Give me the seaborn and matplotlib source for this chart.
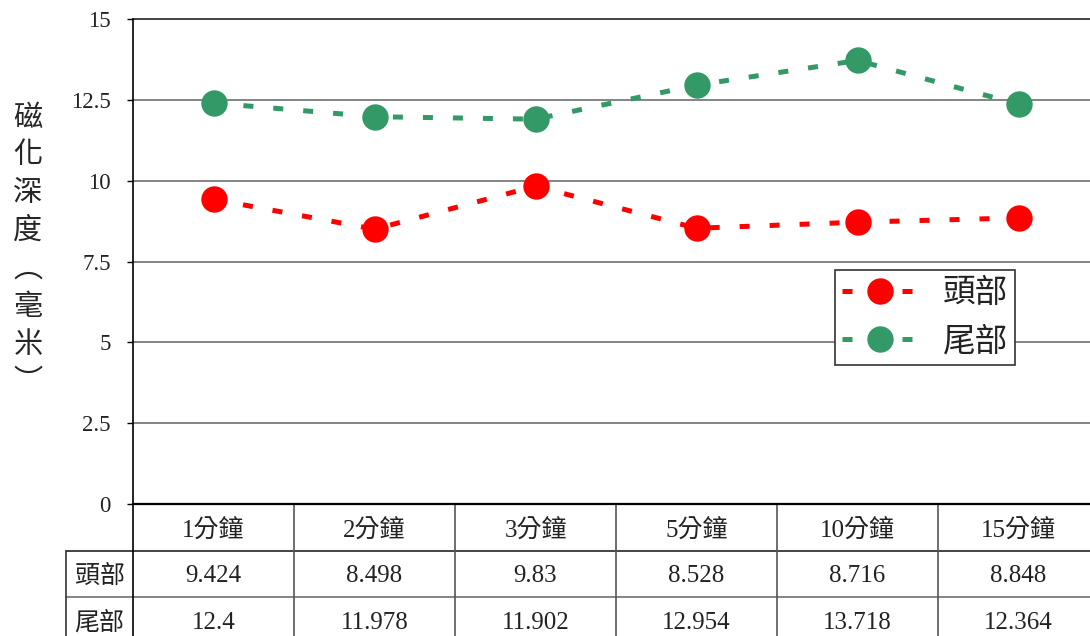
import matplotlib
matplotlib.use("Agg")
import matplotlib.pyplot as plt
import matplotlib.transforms as mtransforms
from matplotlib.lines import Line2D
import pandas as pd
import seaborn as sns

# Magnetization depth (mm) after each exposure time
times = ["1分鐘", "2分鐘", "3分鐘", "5分鐘", "10分鐘", "15分鐘"]
series_names = ["頭部", "尾部"]
head_depth = [9.424, 8.498, 9.83, 8.528, 8.716, 8.848]
tail_depth = [12.4, 11.978, 11.902, 12.954, 13.718, 12.364]
head_labels = ["9.424", "8.498", "9.83", "8.528", "8.716", "8.848"]
tail_labels = ["12.4", "11.978", "11.902", "12.954", "13.718", "12.364"]
y_ticks = [0, 2.5, 5, 7.5, 10, 12.5, 15]
y_tick_labels = ["0", "2.5", "5", "7.5", "10", "12.5", "15"]
y_title = "磁化深度︵毫米︶"

colors = {"頭部": "#ff0000", "尾部": "#339966"}

sns.set_theme(style="white")
plt.rcParams["font.family"] = ["Liberation Serif", "Noto Sans CJK TC", "DejaVu Sans"]

df = pd.DataFrame({
    "idx": list(range(len(times))) * 2,
    "depth": head_depth + tail_depth,
    "part": [series_names[0]] * len(times) + [series_names[1]] * len(times),
})

W, H = 1090, 636
col_w = 161
fig = plt.figure(figsize=(W / 100, H / 100), dpi=100)
# plot area runs slightly past the right edge of the canvas
ax = fig.add_axes([133 / W, 132 / H, col_w * len(times) / W, 485 / H])

sns.lineplot(
    data=df, x="idx", y="depth", hue="part", style="part",
    palette=colors, dashes=[(2, 4), (2, 4)], markers=["o", "o"],
    markersize=19, markeredgewidth=0, linewidth=3.6, legend=False, ax=ax,
    zorder=3,
)

ax.set_xlim(-0.5, len(times) - 0.5)
ax.set_ylim(0, 15)
ax.set_yticks(y_ticks)
ax.set_yticklabels(y_tick_labels, fontsize=16.5, color="#222222")
ax.set_xticks([])
ax.set_xlabel("")
ax.set_ylabel("")
ax.tick_params(axis="y", left=True, length=4, width=1, color="black", pad=12)
for yv in y_ticks[1:]:
    ax.axhline(yv, color="#6f6f6f" if yv < 15 else "#222222", lw=1.2,
               zorder=1, clip_on=False)
for side in ["top", "right"]:
    ax.spines[side].set_visible(False)
ax.spines["left"].set_color("black")
ax.spines["left"].set_linewidth(1.2)
ax.spines["bottom"].set_color("black")
ax.spines["bottom"].set_linewidth(1.6)

# Vertical axis title, one character per line
fig.text(28 / W, 1 - 250 / H, "\n".join(y_title), ha="center", va="center",
         fontsize=21, linespacing=1.34, color="#262626",
         family=["Noto Sans CJK TC", "DejaVu Sans"])

# Legend
handles = [
    Line2D([], [], color=colors[n], lw=3.6, dashes=(2, 4), marker="o",
           markersize=19, markeredgewidth=0)
    for n in series_names
]
leg = ax.legend(handles, series_names, loc="upper left",
                bbox_to_anchor=((835 - 133) / (col_w * len(times)), (504 - 270) / 485),
                borderaxespad=0, fancybox=False, framealpha=1, edgecolor="#333333",
                prop={"family": ["Noto Sans CJK TC"], "size": 23.5},
                handlelength=2.3, handletextpad=0.78, labelspacing=0.5,
                borderpad=0.22)
leg.get_frame().set_linewidth(1.2)
for t in leg.get_texts():
    t.set_color("#222222")

# Data table under the plot
tr = mtransforms.blended_transform_factory(ax.transData, ax.transAxes)
row_h = 46.5 / 485
text_shift = 2.5 / 485
left_edge = -0.5 - 67 / col_w
right_edge = len(times) - 0.5
bottom = -0.32
line_kw = dict(transform=tr, clip_on=False, zorder=2)

for k in (1, 2):
    ax.plot([left_edge, right_edge], [-k * row_h] * 2,
            color="#222222" if k == 1 else "#6f6f6f", lw=1.2, **line_kw)
ax.plot([left_edge, left_edge], [-row_h, bottom], color="#333333", lw=1.2, **line_kw)
ax.plot([-0.5, -0.5], [0, bottom], color="black", lw=1.2, **line_kw)
for i in range(1, len(times)):
    ax.plot([i - 0.5, i - 0.5], [0, bottom], color="#555555", lw=1.2, **line_kw)

label_x = (left_edge - 0.5) / 2
txt_kw = dict(transform=tr, ha="center", va="center", fontsize=18,
              color="#222222", clip_on=False)
for i, t in enumerate(times):
    ax.text(i, -0.5 * row_h - text_shift, t, **txt_kw)
    ax.text(i, -1.5 * row_h - text_shift, head_labels[i], **txt_kw)
    ax.text(i, -2.5 * row_h - text_shift, tail_labels[i], **txt_kw)
ax.text(label_x, -1.5 * row_h - text_shift, series_names[0], **txt_kw)
ax.text(label_x, -2.5 * row_h - text_shift, series_names[1], **txt_kw)

fig.savefig("out.png", dpi=100)
